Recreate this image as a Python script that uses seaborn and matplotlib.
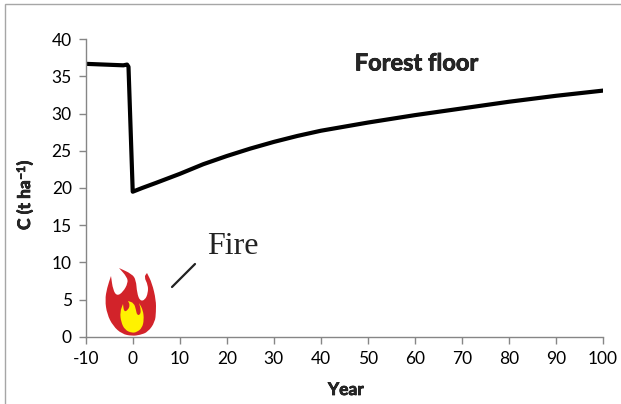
import matplotlib
matplotlib.use("Agg")
import matplotlib.pyplot as plt
import matplotlib.patheffects as pe
from matplotlib.patches import PathPatch, Rectangle
from matplotlib.path import Path
import pandas as pd
import seaborn as sns

# values
year = [-10, -6, -2, -1.2, -0.9, 0, 2, 5, 10, 15, 20, 25, 30, 35, 40, 50, 60, 70, 80, 90, 100]
carbon = [36.7, 36.6, 36.5, 36.6, 36.3, 19.5, 20.0, 20.7, 21.9, 23.2, 24.3, 25.3, 26.2, 27.0, 27.7,
          28.8, 29.8, 30.7, 31.6, 32.4, 33.1]
xticks = list(range(-10, 101, 10))
yticks = list(range(0, 41, 5))

# flame outlines, in pixels of the reference; sharp tips are listed three times
flame_red = [(132, 336), (122, 334), (113, 326), (107, 314), (105, 300), (107, 288),
             (111, 276), (111, 276), (111, 276), (113, 290), (117, 296), (123, 292), (128, 283),
             (127, 277), (119, 268), (119, 268), (119, 268), (132, 274), (136, 280), (137, 293),
             (140, 301), (145, 300), (148, 293), (148, 285), (144, 277), (147, 273), (147, 273),
             (152, 283), (156, 300), (156, 312), (155, 322), (148, 332), (140, 335)]
flame_yellow = [(132, 333), (125, 330), (121, 322), (120, 312), (123, 304), (123, 304), (124, 312),
                (128, 310), (130, 305), (128, 301), (128, 301), (134, 303), (136, 310), (137, 315),
                (140, 315), (141, 310), (139, 303), (139, 303), (143, 310), (144, 320), (142, 328),
                (137, 332)]

W, H = 621, 404

sns.set_theme(style="white")
plt.rcParams["font.family"] = ["Lato", "DejaVu Sans"]
plt.rcParams["axes.unicode_minus"] = False

df = pd.DataFrame({"Year": year, "C": carbon})

fig = plt.figure(figsize=(W / 100, H / 100), dpi=100)
ax = fig.add_axes([85.7 / W, 1 - 336.7 / H, (603 - 85.7) / W, (336.7 - 39.3) / H])
sns.lineplot(data=df, x="Year", y="C", sort=False, estimator=None, color="black", linewidth=3, ax=ax)

ax.set_xlim(-10, 100)
ax.set_ylim(0, 40)
ax.set_xticks(xticks)
ax.set_yticks(yticks)
ax.tick_params(axis="both", length=5, width=1, color="#868686", labelsize=12.5, labelcolor="black",
               bottom=True, left=True, pad=5)
ax.set_xlabel("")
ax.set_ylabel("")
sns.despine(ax=ax)
for side in ["left", "bottom"]:
    ax.spines[side].set_color("#868686")
    ax.spines[side].set_linewidth(1)

# bold in the reference is heavier than Lato Bold
heavy = [pe.withStroke(linewidth=0.5, foreground="black")]
fig.text(416.5 / W, 1 - 63 / H, "Forest floor", ha="center", va="center", fontsize=17,
         fontweight="bold", path_effects=heavy)
fig.text(346 / W, 1 - 390 / H, "Year", ha="center", va="center", fontsize=12.5,
         fontweight="bold", path_effects=heavy)
fig.text(233 / W, 1 - 246 / H, "Fire", ha="center", va="center", fontsize=23,
         family="Liberation Serif", color="#222222")

# y label in three pieces so the exponent keeps the bold face
renderer = fig.canvas.get_renderer()
ypos = 230
for piece, size, xbase in [("C (t ha", 12.5, 30), ("\u22121", 8.5, 25), (")", 12.5, 30)]:
    t = fig.text(xbase / W, 1 - ypos / H, piece, rotation=90, rotation_mode="anchor", ha="left",
                 va="baseline", fontsize=size, fontweight="bold", path_effects=heavy)
    ypos -= t.get_window_extent(renderer).height + 0.5

def blob(points, color):
    # rounded outline through the midpoints of the listed pixels
    pts = [(x / W, 1 - y / H) for x, y in points]
    mids = [((a[0] + b[0]) / 2, (a[1] + b[1]) / 2) for a, b in zip(pts, pts[1:] + pts[:1])]
    verts = [mids[-1]]
    codes = [Path.MOVETO]
    for p, m in zip(pts, mids):
        verts += [p, m]
        codes += [Path.CURVE3, Path.CURVE3]
    return PathPatch(Path(verts, codes), transform=fig.transFigure, facecolor=color, edgecolor="none")

# outer frame and the flame sit in figure pixels, not data
fig.add_artist(Rectangle((5 / W, -0.02), 1.02, 1 - 4 / H + 0.02, transform=fig.transFigure,
                         fill=False, edgecolor="#a6a6a6", linewidth=1))
fig.add_artist(blob(flame_red, "#d2232a"))
fig.add_artist(blob(flame_yellow, "#fff200"))
fig.add_artist(plt.Line2D([172 / W, 195 / W], [1 - 287 / H, 1 - 264 / H], transform=fig.transFigure,
                          color="#222222", linewidth=1.6))

fig.savefig("out.png", dpi=100)
